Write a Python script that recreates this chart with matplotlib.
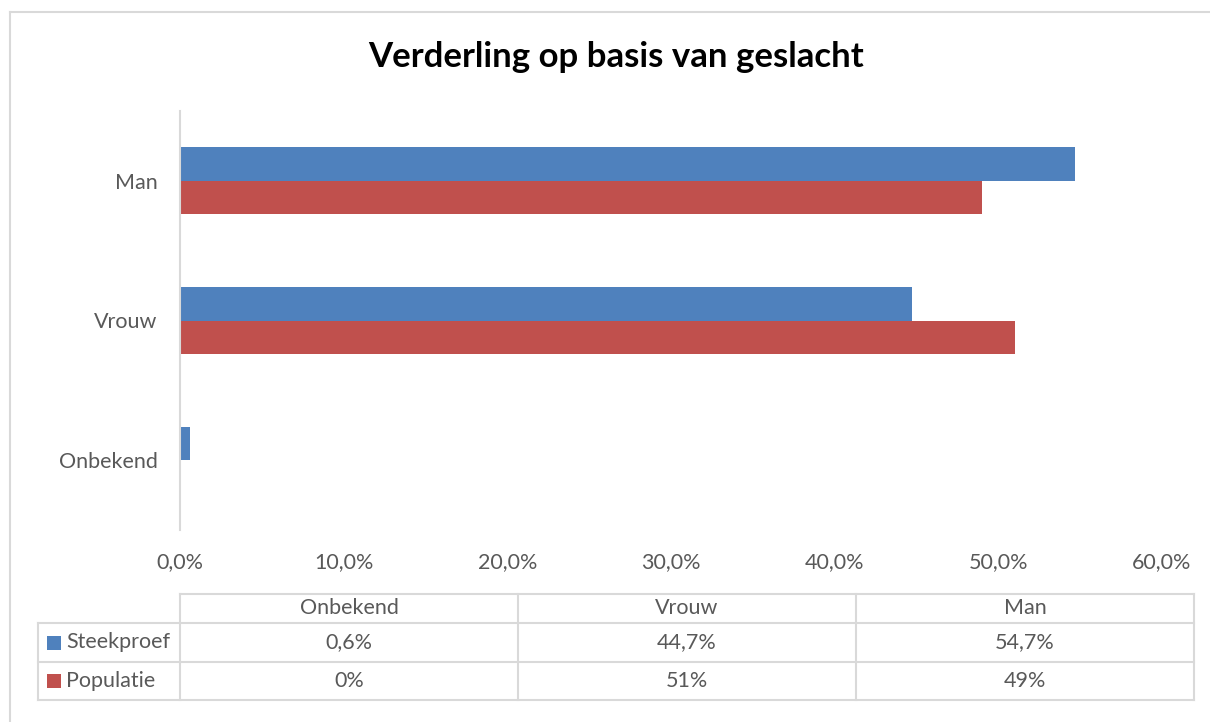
import matplotlib
matplotlib.use("Agg")
import matplotlib.pyplot as plt
from matplotlib.patches import Rectangle
import numpy as np

plt.rcParams['font.family'] = ['Lato', 'DejaVu Sans']

title = "Verderling op basis van geslacht"
categories = ["Onbekend", "Vrouw", "Man"]
series_names = ["Steekproef", "Populatie"]
steekproef = [0.6, 44.7, 54.7]
populatie = [0.0, 51.0, 49.0]
steekproef_labels = ["0,6%", "44,7%", "54,7%"]
populatie_labels = ["0%", "51%", "49%"]
xticks = [0, 10, 20, 30, 40, 50, 60]
xtick_labels = ["0,0%", "10,0%", "20,0%", "30,0%", "40,0%", "50,0%", "60,0%"]

BLUE = "#4F81BD"
RED = "#C0504D"
TXT = "#595959"
LINE = "#D9D9D9"
FS = 15.5

W, H = 1210, 722
fig = plt.figure(figsize=(W / 100, H / 100), dpi=100)

def fx(x):
    return x / W

def fy(y):
    return 1 - y / H

# outer chart border (left and top visible)
fig.add_artist(plt.Line2D([fx(10), fx(10)], [fy(12), fy(730)], color=LINE, lw=1.5))
fig.add_artist(plt.Line2D([fx(10), fx(1220)], [fy(12), fy(12)], color=LINE, lw=1.5))

fig.text(fx(616), fy(57), title, ha="center", va="center", fontsize=25,
         fontweight="bold", color="black")

# main axes: x 180..1162 for 0..60 ; y 111..530
ax = fig.add_axes([fx(180), fy(530), fx(1162) - fx(180), (530 - 111) / H])
ax.set_xlim(0, 60)
n = len(categories)
ax.set_ylim(-0.5, n - 0.5)
y = np.arange(n)
bh = 0.24
ax.barh(y + bh / 2, steekproef, height=bh, color=BLUE, edgecolor="none")
ax.barh(y - bh / 2, populatie, height=bh, color=RED, edgecolor="none")
for s in ["top", "right", "bottom"]:
    ax.spines[s].set_visible(False)
ax.spines["left"].set_color(LINE)
ax.spines["left"].set_linewidth(1.5)
ax.set_yticks(y)
ax.set_yticklabels(categories, fontsize=FS, color=TXT)
ax.tick_params(axis="y", length=0, pad=16)
ax.set_xticks(xticks)
ax.set_xticklabels(xtick_labels, fontsize=FS, color=TXT)
ax.tick_params(axis="x", length=0, pad=16)
ax.set_facecolor("none")

# data table
tab = fig.add_axes([0, 0, 1, 1])
tab.set_xlim(0, W)
tab.set_ylim(H, 0)
tab.axis("off")
col_edges = [180, 518, 856, 1194]
row_edges = [594, 623, 662, 700]
lw = 1.5
tab.plot([180, 1194], [594, 594], color=LINE, lw=lw)
for yy in row_edges[1:]:
    tab.plot([38, 1194], [yy, yy], color=LINE, lw=lw)
tab.plot([38, 38], [623, 700], color=LINE, lw=lw)
for xx in col_edges:
    tab.plot([xx, xx], [594, 700], color=LINE, lw=lw)

cc = [(col_edges[i] + col_edges[i + 1]) / 2 for i in range(3)]
rc = [(row_edges[i] + row_edges[i + 1]) / 2 for i in range(3)]
for i, c in enumerate(categories):
    tab.text(cc[i], rc[0], c, ha="center", va="center", fontsize=FS, color=TXT)
    tab.text(cc[i], rc[1], steekproef_labels[i], ha="center", va="center", fontsize=FS, color=TXT)
    tab.text(cc[i], rc[2], populatie_labels[i], ha="center", va="center", fontsize=FS, color=TXT)

for k, (name, col) in enumerate(zip(series_names, [BLUE, RED])):
    yc = rc[k + 1]
    tab.add_patch(Rectangle((47, yc - 7), 14, 14, color=col, lw=0))
    tab.text(66, yc, name, ha="left", va="center", fontsize=FS, color=TXT)

fig.savefig("out.png", dpi=100)
